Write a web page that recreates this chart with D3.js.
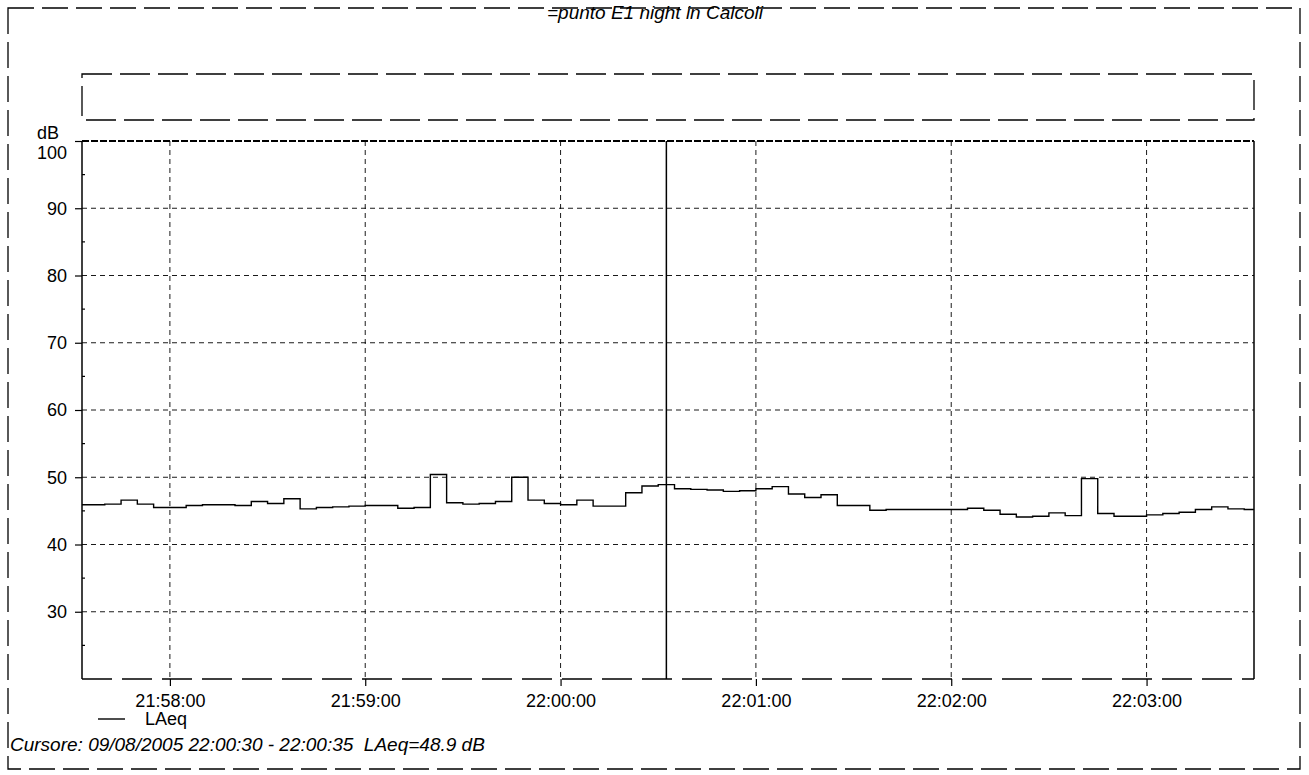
<!DOCTYPE html>
<html><head><meta charset="utf-8">
<script src="https://cdn.jsdelivr.net/npm/d3@7"></script>
<style>body{margin:0;background:#fff}svg{display:block}text{font-family:"Liberation Sans",Arial,sans-serif;fill:#000}</style>
</head><body><svg id="c" width="1309" height="775"></svg>
<script>
const title = "=punto E1 night in Calcoli";
const seriesName = "LAeq";
const cursorText = "Cursore: 09/08/2005 22:00:30 - 22:00:35  LAeq=48.9 dB";
const dateStr = "2005-08-09";
const xDomain = ["21:57:33", "22:03:33"];
const xTickLabels = ["21:58:00", "21:59:00", "22:00:00", "22:01:00", "22:02:00", "22:03:00"];
const yDomain = [20, 100];
const yTickValues = [30, 40, 50, 60, 70, 80, 90, 100];
const cursorRange = ["22:00:30", "22:00:35"];
const firstTime = "21:57:30";
const stepSeconds = 5;
const laeq = [45.9,45.9,46.0,46.6,46.0,45.5,45.5,45.8,45.9,45.9,
              45.8,46.4,46.1,46.8,45.3,45.5,45.6,45.7,45.8,45.8,
              45.4,45.5,50.4,46.2,46.0,46.1,46.4,50.0,46.6,46.1,
              45.9,46.6,45.7,45.7,47.7,48.7,48.9,48.3,48.2,48.1,
              47.9,48.0,48.3,48.6,47.5,47.0,47.4,45.8,45.8,45.1,
              45.2,45.2,45.2,45.2,45.2,45.4,45.1,44.5,44.1,44.2,
              44.7,44.3,49.8,44.6,44.2,44.2,44.4,44.6,44.8,45.2,
              45.6,45.3,45.2];

const parseT = d3.timeParse("%Y-%m-%d %H:%M:%S");
const T = s => parseT(dateStr + " " + s);
const svg = d3.select("#c");
const L = 82, R = 1254, TOP = 141, BOT = 679;
const FONT = '"Liberation Sans",Arial,sans-serif';
const x = d3.scaleTime().domain(xDomain.map(T)).range([L, R]);
const y = d3.scaleLinear().domain(yDomain).range([BOT, TOP]);

// outer frame
svg.append("rect").attr("x", 8).attr("y", 8).attr("width", 1292).attr("height", 761)
  .attr("fill", "none").attr("stroke", "#000").attr("stroke-width", 1.3).attr("stroke-dasharray", "26,8");
// title
svg.append("text").attr("x", 655).attr("y", 19).attr("text-anchor", "middle")
  .attr("font-size", 19).attr("font-style", "italic").text(title);
// empty box
svg.append("rect").attr("x", L).attr("y", 74).attr("width", R - L).attr("height", 46)
  .attr("fill", "none").attr("stroke", "#000").attr("stroke-width", 1.3).attr("stroke-dasharray", "30,8");

// grid
const gx = svg.append("g");
gx.selectAll("line.v").data(xTickLabels).join("line")
  .attr("x1", d => x(T(d))).attr("x2", d => x(T(d))).attr("y1", TOP).attr("y2", BOT)
  .attr("stroke", "#000").attr("stroke-width", 0.9).attr("stroke-dasharray", "5,4");
gx.selectAll("line.h").data(yTickValues.filter(v => v < 100)).join("line")
  .attr("x1", L).attr("x2", R).attr("y1", d => y(d)).attr("y2", d => y(d))
  .attr("stroke", "#000").attr("stroke-width", 0.9).attr("stroke-dasharray", "5,4");

// y axis
const yAxis = d3.axisLeft(y).tickValues(yTickValues).tickSize(7).tickPadding(8).tickFormat(d3.format("d"));
const ya = svg.append("g").attr("transform", `translate(${L},0)`).call(yAxis);
ya.select(".domain").remove();
ya.selectAll("text").attr("font-size", 18).style("font-family", FONT);
ya.selectAll(".tick").filter(d => d === 100).select("text").attr("dy", "0.95em");
ya.selectAll(".tick line").attr("stroke-width", 1.2);
// minor y ticks
svg.append("g").selectAll("line").data(d3.range(25, 100, 10)).join("line")
  .attr("x1", L).attr("x2", L + 3).attr("y1", d => y(d)).attr("y2", d => y(d))
  .attr("stroke", "#000").attr("stroke-width", 1.2);
svg.append("text").attr("x", 48).attr("y", 139).attr("text-anchor", "middle").attr("font-size", 18).text("dB");

// x axis
const xAxis = d3.axisBottom(x).tickValues(xTickLabels.map(T)).tickSize(7).tickPadding(8)
  .tickFormat(d3.timeFormat("%H:%M:%S"));
const xa = svg.append("g").attr("transform", `translate(0,${BOT})`).call(xAxis);
xa.select(".domain").remove();
xa.selectAll("text").attr("font-size", 18).style("font-family", FONT);
xa.selectAll(".tick line").attr("stroke-width", 1.2);

// plot borders
svg.append("line").attr("x1", L).attr("x2", L).attr("y1", TOP).attr("y2", BOT).attr("stroke", "#000").attr("stroke-width", 1.5);
svg.append("line").attr("x1", R).attr("x2", R).attr("y1", TOP).attr("y2", BOT).attr("stroke", "#000").attr("stroke-width", 1.5);
svg.append("line").attr("x1", L).attr("x2", R).attr("y1", TOP).attr("y2", TOP).attr("stroke", "#000").attr("stroke-width", 1.8).attr("stroke-dasharray", "7,2");
svg.append("line").attr("x1", L).attr("x2", R).attr("y1", BOT).attr("y2", BOT).attr("stroke", "#000").attr("stroke-width", 1.5).attr("stroke-dasharray", "30,10");

// data
svg.append("clipPath").attr("id", "clip").append("rect").attr("x", L).attr("y", TOP).attr("width", R - L).attr("height", BOT - TOP);
const t0 = T(firstTime);
const pts = laeq.map((v, i) => ({t: d3.timeSecond.offset(t0, i * stepSeconds), v}));
pts.push({t: d3.timeSecond.offset(t0, laeq.length * stepSeconds), v: laeq[laeq.length - 1]});
const line = d3.line().x(d => x(d.t)).y(d => y(d.v)).curve(d3.curveStepAfter);
svg.append("path").datum(pts).attr("clip-path", "url(#clip)").attr("d", line)
  .attr("fill", "none").attr("stroke", "#000").attr("stroke-width", 1.4);

// cursor line
const cx = x(new Date((T(cursorRange[0]).getTime() + T(cursorRange[1]).getTime()) / 2));
svg.append("line").attr("x1", cx).attr("x2", cx).attr("y1", TOP).attr("y2", BOT).attr("stroke", "#000").attr("stroke-width", 1.5);

// legend
svg.append("line").attr("x1", 98).attr("x2", 125).attr("y1", 719).attr("y2", 719).attr("stroke", "#000").attr("stroke-width", 1.4);
svg.append("text").attr("x", 145).attr("y", 725).attr("font-size", 18).text(seriesName);
// cursor text
svg.append("text").attr("x", 10).attr("y", 751).attr("font-size", 19).attr("font-style", "italic")
  .style("white-space", "pre").text(cursorText);
</script></body></html>
